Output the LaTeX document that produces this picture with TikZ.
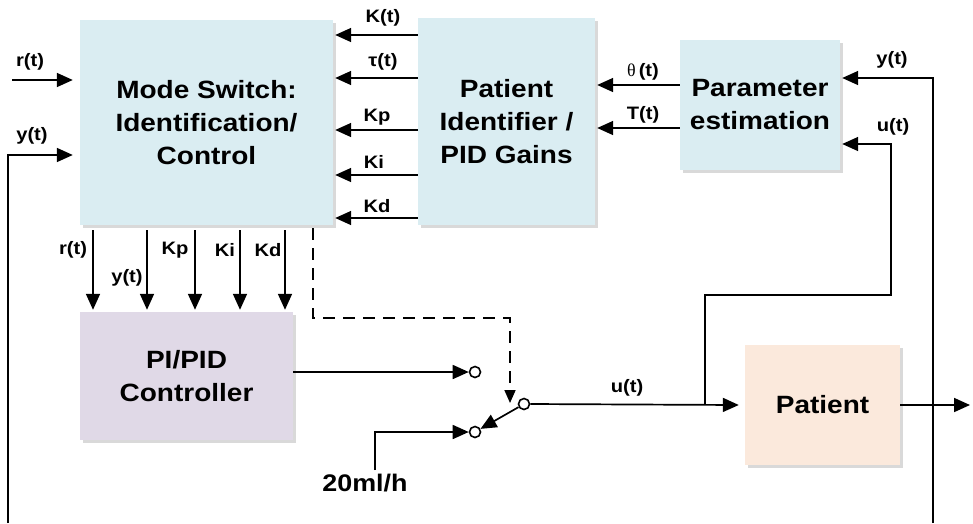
\documentclass[tikz,border=0pt]{standalone}
\usepackage{fontspec}
\setmainfont{Liberation Sans}[FakeStretch=1.12]
\newfontfamily\grserif{Liberation Serif}
\usetikzlibrary{arrows.meta,shadows,calc}
\definecolor{msblue}{HTML}{DAEDF2}
\definecolor{ctlpurple}{HTML}{E0D9E7}
\definecolor{patpeach}{HTML}{FBE9DC}
\begin{document}
\begin{tikzpicture}[x=1pt,y=-1pt,
  blk/.style={fill=#1, draw=none, drop shadow={shadow xshift=3pt,shadow yshift=-3pt,opacity=0.25,fill=black!60},
    align=center, font=\fontsize{25}{33}\selectfont\bfseries, inner sep=0pt},
  arr/.style={line width=1.7pt,-{Triangle[length=16pt,width=14pt]}},
  ln/.style={line width=1.7pt},
  dsh/.style={line width=1.7pt,dash pattern=on 12pt off 8pt},
  lbl/.style={font=\fontsize{18}{20}\selectfont\bfseries, inner sep=0pt},
  term/.style={circle, draw, fill=white, line width=1.6pt, minimum size=11pt, inner sep=0pt}]
\useasboundingbox (0,0) rectangle (973,523);

% blocks
\node[blk=msblue, minimum width=253pt, minimum height=205pt] (ms) at (206.5,122.5) {Mode Switch:\\Identification/\\Control};
\node[blk=msblue, minimum width=177pt, minimum height=207pt] (pig) at (506.5,121.5) {Patient\\Identifier /\\PID Gains};
\node[blk=msblue, minimum width=160pt, minimum height=130pt] (pe) at (760,105) {Parameter\\estimation};
\node[blk=ctlpurple, minimum width=213pt, minimum height=128pt] (ctl) at (186.5,376) {PI/PID\\Controller};
\node[blk=patpeach, minimum width=155pt, minimum height=120pt] (pat) at (822.5,405) {Patient};

% switch terminals
\node[term] (t1) at (475,372) {};
\node[term] (t2) at (475,432) {};
\node[term] (tc) at (524,404) {};
\coordinate (src) at (375,470);
\coordinate (out) at (970,405);
\coordinate (yl) at (8,523);
\coordinate (yr) at (933,523);
\coordinate (rin) at (12,80);
\coordinate (ujn) at (705,405);

% identifier -> mode switch
\foreach \yy in {35,78,130,175,218}{
  \draw[arr] (pig.west |- 0,\yy) -- ($(ms.east |- 0,\yy)+(2,0)$);
}
\node[lbl] (lK) at (383,18) {K(t)};
\node[lbl] (lTau) at (383,62) {τ(t)};
\node[lbl] (lKp) at (377,117) {Kp};
\node[lbl] (lKi) at (374,162) {Ki};
\node[lbl] (lKd) at (377,206) {Kd};

% estimation -> identifier
\draw[arr] (pe.west |- 0,85) -- ($(pig.east |- 0,85)+(2,0)$);
\draw[arr] (pe.west |- 0,128) -- ($(pig.east |- 0,128)+(2,0)$);
\node[lbl] (lth) at (643,72) {{\grserif\mdseries θ}\,(t)};
\node[lbl] (lT) at (643,115) {T(t)};

% inputs to mode switch
\draw[arr] (rin) -- ($(ms.west |- 0,80)+(-7,0)$);
\node[lbl] (lr) at (30,62) {r(t)};
\draw[arr] (yl) -- (8,155) -- ($(ms.west |- 0,155)+(-7,0)$);
\node[lbl] (ly) at (32,136) {y(t)};

% mode switch -> controller
\foreach \xx in {93,147,195,240,285}{
  \draw[arr] ($(ms.south -| \xx,0)+(0,5)$) -- ($(ctl.north -| \xx,0)+(0,-2)$);
}
\node[lbl] (lr2) at (73,250) {r(t)};
\node[lbl] (ly2) at (127,278) {y(t)};
\node[lbl] (lKp2) at (175,250) {Kp};
\node[lbl] (lKi2) at (225,250) {Ki};
\node[lbl] (lKd2) at (268,250) {Kd};

% dashed control of switch
\draw[dsh,-{Triangle[length=13pt,width=11pt]}] ($(ms.south -| 313,0)+(0,3)$) -- (313,318) -- (510,318) -- (510,403);

% controller -> switch
\draw[arr] (ctl.east |- t1) -- (t1.west);
\draw[arr] (src) -- (375,432) -- (t2.west);
\draw[arr] (tc) -- (t2);

% switch -> patient
\draw[arr] (tc.east) -- ($(pat.west)+(-6,0)$);
\node[lbl] (lu) at (627,388) {u(t)};

% patient output
\draw[arr] (pat.east) -- (out);

% feedback to estimation
\draw[arr] (yr) -- (933,78) -- ($(pe.east |- 0,78)+(2,0)$);
\node[lbl] (ly3) at (892,60) {y(t)};
\draw[arr] (ujn) -- (705,295) -- (891,295) -- (891,144) -- ($(pe.east |- 0,144)+(2,0)$);
\node[lbl] (lu2) at (893,127) {u(t)};

\node[font=\fontsize{24}{28}\selectfont\bfseries, inner sep=0pt] (l20) at (365,483) {20ml/h};
\end{tikzpicture}
\end{document}
